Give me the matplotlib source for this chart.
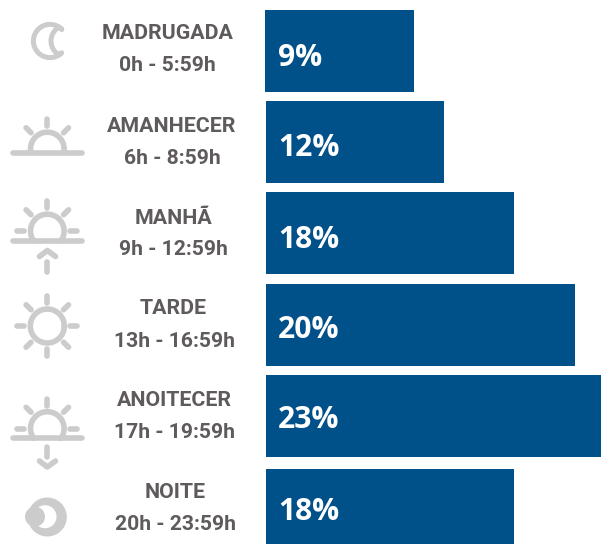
#!/usr/bin/env python3

import numpy as np
import matplotlib
matplotlib.use('Agg')
import matplotlib.pyplot as plt

# Chart data
periods = ['MADRUGADA', 'AMANHECER', 'MANHÃ', 'TARDE', 'ANOITECER', 'NOITE']
hours = ['0h - 5:59h', '6h - 8:59h', '9h - 12:59h', '13h - 16:59h', '17h - 19:59h', '20h - 23:59h']
percent_labels = ['9%', '12%', '18%', '20%', '23%', '18%']
# the drawn bars are not proportional to their labels, so lengths are read separately
bar_lengths = [10.15, 12.2, 17.0, 21.2, 23.0, 17.0]

BLUE = '#00508a'
TEXT = '#5f5b5c'
ICON = '#cccccc'
W, H = 601, 544
PX_PER_UNIT = 335 / 23.0
STROKE = 5.6 * 0.72

plt.rcParams['font.family'] = ['Roboto', 'DejaVu Sans']

fig = plt.figure(figsize=(W / 100, H / 100), dpi=100)
ax = fig.add_axes([0, 0, 1, 1])
ax.set_xlim(-266 / PX_PER_UNIT, (W - 266) / PX_PER_UNIT)
ax.set_ylim(H, 0)
ax.axis('off')

# per-row layout in pixels
bar_tops = [10, 101, 192, 284, 375, 469]
bar_heights = [82, 82, 82, 82, 82, 76]
bar_starts = [265, 266, 266, 266, 266, 266]
percent_y = [57.5, 148.5, 239.5, 329.5, 420.5, 511.5]
title_pos = [(167.5, 33.5), (172, 126.5), (173, 218), (173.5, 308), (174.5, 400.5), (175, 493)]
hours_pos = [(167, 65.5), (172, 158.5), (173, 249.5), (174, 341.5), (174.5, 432.5), (175, 525)]


def px(x):
    return (x - 266) / PX_PER_UNIT


def stroke(xs, ys, lw=STROKE):
    ax.plot([px(x) for x in xs], ys, color=ICON, lw=lw, solid_capstyle='round',
            solid_joinstyle='round')


def rays(cx, cy, angles):
    for a in angles:
        t = np.radians(a)
        stroke([cx + 23 * np.cos(t), cx + 30 * np.cos(t)],
               [cy - 23 * np.sin(t), cy - 30 * np.sin(t)])


def arc(cx, cy, r, a0, a1):
    t = np.radians(np.linspace(a0, a1, 60))
    return cx + r * np.cos(t), cy - r * np.sin(t)


def dome(cx, cy, line_y, side_rays=True):
    stroke([13, 82], [line_y, line_y])
    cut = np.degrees(np.arcsin((cy - line_y) / 16.8))
    stroke(*arc(cx, cy, 16.8, cut, 180 - cut))
    rays(cx, cy, [0, 45, 90, 135, 180] if side_rays else [45, 90, 135])


def moon():
    x0, y0 = arc(50, 41, 16.6, 45, 315)
    x1, y1 = arc(67, 41, 16, 240, 120)
    stroke(np.r_[x0, x1, x0[:1]], np.r_[y0, y1, y0[:1]], lw=5 * 0.72)


def disc(cx, cy, r, color):
    t = np.radians(np.linspace(0, 360, 90))
    ax.fill([px(v) for v in cx + r * np.cos(t)], cy + r * np.sin(t), color=color, lw=0)


for i, length in enumerate(bar_lengths):
    start = bar_starts[i]
    ax.barh(bar_tops[i] + bar_heights[i] / 2, length - px(start), height=bar_heights[i], left=px(start),
            color=BLUE, lw=0)
    ax.text(px(278), percent_y[i], percent_labels[i], color='white', fontsize=21.6, family='Open Sans',
            fontweight='bold', ha='left', va='center')
    ax.text(px(title_pos[i][0]), title_pos[i][1], periods[i], color=TEXT, fontsize=15.4,
            fontweight='bold', ha='center', va='center')
    ax.text(px(hours_pos[i][0]), hours_pos[i][1], hours[i], color=TEXT, fontsize=15.2,
            fontweight='bold', ha='center', va='center')

CX = 47.3
moon()
dome(CX, 149, 152.7, side_rays=False)

dome(CX, 231, 241)
stroke([CX, CX], [262, 271.5])
stroke([39.5, CX, 55.5], [256.5, 250.5, 256.5])

xs, ys = arc(CX, 326, 17, 0, 360)
stroke(xs, ys)
rays(CX, 326, range(0, 360, 45))

dome(CX, 428.5, 438.3)
stroke([CX, CX], [447, 456.5])
stroke([39.5, CX, 55.5], [461, 467, 461])

disc(CX, 517, 19.5, ICON)
disc(45, 516.7, 11.5, 'white')
disc(35, 516.7, 10, ICON)

fig.savefig('out.png', dpi=100)
